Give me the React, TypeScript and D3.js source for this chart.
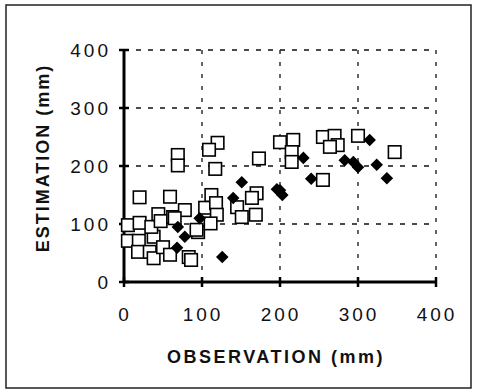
import React, { useEffect, useRef } from 'react';
import * as d3 from 'd3';

// open squares: [observation, estimation] in mm
const squareObs = [5, 20, 5, 19, 18, 33, 38, 38, 35, 44, 47, 50, 59, 63, 20, 59, 78, 83, 86, 95, 69, 69, 104, 120, 109, 117, 112, 118, 119, 111, 93, 145, 151, 169, 170, 164, 173, 200, 217, 215, 215, 255, 270, 274, 264, 300, 347, 255, 65];
const squareEst = [98, 102, 71, 71, 52, 52, 41, 78, 95, 117, 105, 60, 47, 112, 146, 147, 124, 43, 38, 86, 219, 201, 128, 240, 228, 195, 150, 136, 116, 101, 90, 129, 112, 116, 153, 145, 213, 241, 245, 224, 207, 250, 252, 236, 233, 252, 224, 176, 110];

// filled diamonds
const diamondObs = [69, 78, 97, 68, 126, 140, 151, 196, 203, 200, 230, 240, 283, 294, 300, 315, 324, 337];
const diamondEst = [95, 78, 110, 59, 43, 145, 172, 160, 150, 158, 214, 178, 210, 207, 198, 245, 202, 179];

const ticks = [0, 100, 200, 300, 400];

export default function App() {
  const chartRef = useRef<SVGSVGElement>(null);

  useEffect(() => {
    if (!chartRef.current) return;
    drawChart();
  }, []);

  const drawChart = () => {
    const svg = d3.select(chartRef.current);
    svg.selectAll("*").remove();

    const x = d3.scaleLinear().domain([0, 400]).range([124, 436]);
    const y = d3.scaleLinear().domain([0, 400]).range([282, 50]);

    // frame
    svg.append("rect")
      .attr("x", 6).attr("y", 5)
      .attr("width", 465).attr("height", 383)
      .attr("fill", "white")
      .attr("stroke", "#222")
      .attr("stroke-width", 1.5);

    // dashed grid
    svg.selectAll(".hgrid")
      .data(ticks.slice(1))
      .enter()
      .append("line")
      .attr("x1", x(0)).attr("x2", x(400))
      .attr("y1", d => y(d)).attr("y2", d => y(d))
      .attr("stroke", "#111")
      .attr("stroke-width", 1.3)
      .attr("stroke-dasharray", "5,7");

    svg.selectAll(".vgrid")
      .data(ticks.slice(1))
      .enter()
      .append("line")
      .attr("y1", y(0)).attr("y2", y(400))
      .attr("x1", d => x(d)).attr("x2", d => x(d))
      .attr("stroke", "#111")
      .attr("stroke-width", 1.3)
      .attr("stroke-dasharray", "4,8");

    // axes
    svg.append("line")
      .attr("x1", x(0)).attr("x2", x(0))
      .attr("y1", y(0)).attr("y2", y(400))
      .attr("stroke", "#000").attr("stroke-width", 3);
    svg.append("line")
      .attr("x1", x(0)).attr("x2", x(400))
      .attr("y1", y(0)).attr("y2", y(0))
      .attr("stroke", "#000").attr("stroke-width", 3);

    svg.selectAll(".ytick")
      .data(ticks)
      .enter()
      .append("line")
      .attr("x1", x(0) - 5).attr("x2", x(0) + 5)
      .attr("y1", d => y(d)).attr("y2", d => y(d))
      .attr("stroke", "#000").attr("stroke-width", 2.5);
    svg.selectAll(".xtick")
      .data(ticks)
      .enter()
      .append("line")
      .attr("y1", y(0) - 5).attr("y2", y(0) + 5)
      .attr("x1", d => x(d)).attr("x2", d => x(d))
      .attr("stroke", "#000").attr("stroke-width", 2.5);

    const font = "Liberation Sans, Arial, sans-serif";

    svg.selectAll(".ylab")
      .data(ticks)
      .enter()
      .append("text")
      .attr("x", 111)
      .attr("y", d => y(d) + 7)
      .attr("text-anchor", "end")
      .style("font-family", font)
      .style("font-size", "19px")
      .style("letter-spacing", "3px")
      .style("fill", "#111")
      .text(d => d);

    svg.selectAll(".xlab")
      .data(ticks)
      .enter()
      .append("text")
      .attr("x", d => x(d) + 1)
      .attr("y", 321)
      .attr("text-anchor", "middle")
      .style("font-family", font)
      .style("font-size", "19px")
      .style("letter-spacing", "3px")
      .style("fill", "#111")
      .text(d => d);

    svg.append("text")
      .attr("x", 276)
      .attr("y", 363)
      .attr("text-anchor", "middle")
      .style("font-family", font)
      .style("font-size", "18px")
      .style("font-weight", "bold")
      .style("letter-spacing", "2.5px")
      .style("fill", "#111")
      .text("OBSERVATION (mm)");

    svg.append("text")
      .attr("transform", "translate(49,158) rotate(-90)")
      .attr("text-anchor", "middle")
      .style("font-family", font)
      .style("font-size", "18px")
      .style("font-weight", "bold")
      .style("letter-spacing", "2px")
      .style("fill", "#111")
      .text("ESTIMATION (mm)");

    // open squares
    const sq = 12.5;
    svg.selectAll(".sq")
      .data(d3.range(squareObs.length))
      .enter()
      .append("rect")
      .attr("x", i => x(squareObs[i]) - sq / 2)
      .attr("y", i => y(squareEst[i]) - sq / 2)
      .attr("width", sq).attr("height", sq)
      .attr("fill", "white")
      .attr("stroke", "#000")
      .attr("stroke-width", 1.6);

    // filled diamonds
    const diamond = d3.symbol().type(d3.symbolDiamond2).size(100);
    svg.selectAll(".dm")
      .data(d3.range(diamondObs.length))
      .enter()
      .append("path")
      .attr("transform", i => `translate(${x(diamondObs[i])},${y(diamondEst[i])})`)
      .attr("d", diamond as any)
      .attr("fill", "#000");
  };

  return (
    <svg
      ref={chartRef}
      width={477}
      height={392}
      style={{ position: 'absolute', left: 0, top: 0, background: 'white' }}
    ></svg>
  );
}
